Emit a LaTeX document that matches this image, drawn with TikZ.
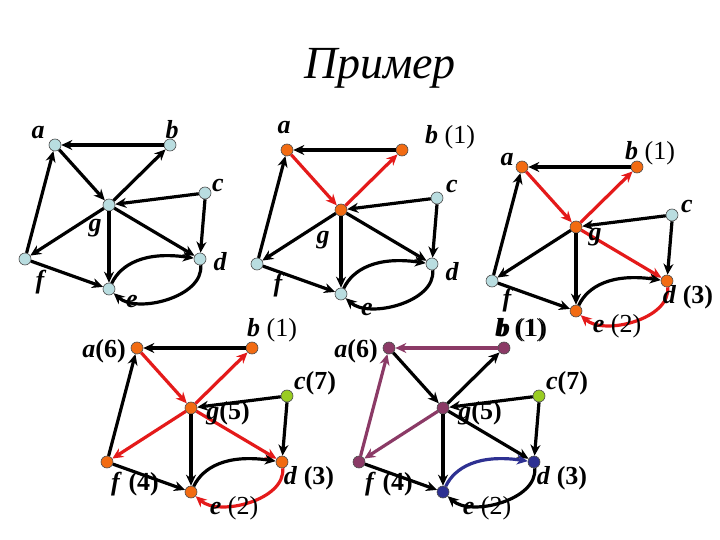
\documentclass[tikz,border=0pt]{standalone}
\usepackage{fontspec}
\setmainfont{Liberation Serif}
\usetikzlibrary{arrows.meta}
\definecolor{lb}{HTML}{B9DDE0}
\definecolor{og}{HTML}{F26B12}
\definecolor{rd}{HTML}{E41A1A}
\definecolor{gr}{HTML}{99CC22}
\definecolor{pu}{HTML}{8B3A66}
\definecolor{bl}{HTML}{2E3192}
\tikzset{
 vtx/.style={circle,draw=black!70,line width=0.6pt,inner sep=0pt,minimum size=12pt},
 ed/.style={line width=3.2pt,-{Stealth[length=11pt,width=10pt]}},
 lab/.style={font=\bfseries\itshape\fontsize{26}{28}\selectfont,inner sep=0pt},
}
\newcommand\rg[1]{\textup{\mdseries #1}}
\newcommand\bu[1]{\textup{#1}}
\newcommand\drawgraph[3]{% prefix, x, y of a
\begin{scope}[shift={(#2,#3)}]
\node[vtx,fill=\na] (#1a) at (0,0) {};
\node[vtx,fill=\nb] (#1b) at (115,0) {};
\node[vtx,fill=\nc] (#1c) at (150,48) {};
\node[vtx,fill=\ng] (#1g) at (54,60) {};
\node[vtx,fill=\nf] (#1f) at (-30,114) {};
\node[vtx,fill=\nd] (#1d) at (145,114) {};
\node[vtx,fill=\ne] (#1e) at (54,144) {};
\draw[ed,draw=\cba] (#1b) -- (#1a);
\draw[ed,draw=\cag] (#1a) -- (#1g);
\draw[ed,draw=\cgb] (#1g) -- (#1b);
\draw[ed,draw=black] (#1c) -- (#1g);
\draw[ed,draw=black] (#1c.south) -- (#1d);
\draw[ed,draw=\cgf] (#1g) -- (#1f);
\draw[ed,draw=\cfa] (#1f) -- (#1a);
\draw[ed,draw=black] (#1g) -- (#1e);
\draw[ed,draw=\cgd] (#1g) -- (#1d);
\draw[ed,draw=black] (#1f) -- (#1e);
\draw[ed,draw=\ced] (#1e) .. controls +(12,-25) and +(-55,-8) .. (#1d);
\draw[ed,draw=\cde] (#1d) .. controls +(4,38) and +(28,25) .. (#1e);
\end{scope}}
\newcommand\setall[1]{\def\na{#1}\def\nb{#1}\def\nc{#1}\def\ng{#1}\def\nf{#1}\def\nd{#1}\def\ne{#1}}
\newcommand\edgesblack{\def\cba{black}\def\cag{black}\def\cgb{black}\def\cgf{black}\def\cfa{black}\def\cgd{black}\def\ced{black}\def\cde{black}}
\begin{document}
\begin{tikzpicture}[x=1pt,y=-1pt]
\useasboundingbox (0,0) rectangle (720,540);
\node[font=\itshape\fontsize{46}{50}\selectfont] (title) at (380,68) {Пример};
% graph 1
\setall{lb}\edgesblack
\drawgraph{A}{55}{145}
\node[lab] (la1) at (38,133) {a};
\node[lab] (lb1) at (172,130) {b};
\node[lab] (lc1) at (218,186) {c};
\node[lab] (lg1) at (95,228) {g};
\node[lab] (lf1) at (40,282) {f};
\node[lab] (ld1) at (220,262) {d};
\node[lab] (le1) at (132,302) {e};
% graph 2
\setall{lb}\def\na{og}\def\nb{og}\def\ng{og}\edgesblack\def\cag{rd}\def\cgb{rd}
\drawgraph{B}{287}{150}
\node[lab] (la2) at (284,128) {a};
\node[lab] (lb2) at (450,137) {b \rg{(1)}};
\node[lab] (lc2) at (452,187) {c};
\node[lab] (lg2) at (323,240) {g};
\node[lab] (ld2) at (452,272) {d};
\node[lab] (lf2) at (278,285) {f};
\node[lab] (le2) at (367,310) {e};
% graph 3
\setall{og}\def\nc{lb}\def\nf{lb}\edgesblack\def\cag{rd}\def\cgb{rd}\def\cgd{rd}\def\cde{rd}
\drawgraph{C}{522}{167}
\node[lab] (la3) at (507,160) {a};
\node[lab] (lb3) at (650,153) {b \rg{(1)}};
\node[lab] (lc3) at (687,207) {c};
\node[lab] (lg3) at (595,237) {g};
\node[lab] (ld3) at (688,297) {d \bu{(3)}};
\node[lab] (lf3) at (507,300) {f};
\node[lab] (le3) at (617,326) {e \rg{(2)}};
\node[lab] (lb3b) at (520,330) {b \rg{(1)}};
% graph 4
\setall{og}\def\nc{gr}\edgesblack\def\cag{rd}\def\cgb{rd}\def\cgd{rd}\def\cde{rd}\def\cgf{rd}
\drawgraph{D}{137}{348}
\node[lab] (la4) at (104,351) {a\bu{(6)}};
\node[lab] (lb4) at (272,330) {b \rg{(1)}};
\node[lab] (lc4) at (315,383) {c\bu{(7)}};
\node[lab] (lg4) at (228,413) {g\bu{(5)}};
\node[lab] (lf4) at (135,484) {f \bu{(4)}};
\node[lab] (ld4) at (309,478) {d \bu{(3)}};
\node[lab] (le4) at (234,508) {e \rg{(2)}};
% graph 5
\setall{pu}\def\nc{gr}\def\nd{bl}\def\ne{bl}\edgesblack\def\cba{pu}\def\cfa{pu}\def\cgf{pu}\def\ced{bl}
\drawgraph{E}{389}{348}
\node[lab] (la5) at (356,351) {a\bu{(6)}};
\node[lab] (lb5) at (522,330) {b \rg{(1)}};
\node[lab] (lc5) at (567,383) {c\bu{(7)}};
\node[lab] (lg5) at (480,413) {g\bu{(5)}};
\node[lab] (lf5) at (389,484) {f \bu{(4)}};
\node[lab] (ld5) at (562,478) {d \bu{(3)}};
\node[lab] (le5) at (487,508) {e \rg{(2)}};
\end{tikzpicture}
\end{document}
